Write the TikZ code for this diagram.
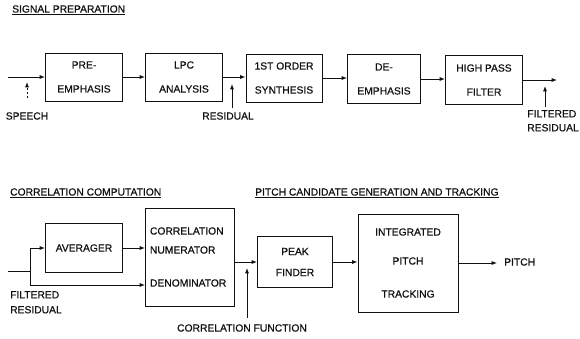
\documentclass[tikz,border=0pt]{standalone}
\usepackage{fontspec}
\setmainfont{Liberation Sans}
\newfontfamily\scanfont{Liberation Sans}[FakeBold=0.6]
\usetikzlibrary{arrows.meta,positioning,calc}
\definecolor{ink}{HTML}{111111}
\tikzset{
  block/.style={draw=ink, line width=1pt, align=center, inner sep=2pt,
                font=\scanfont\fontsize{10.3}{12}\selectfont, text=ink},
  arrow/.style={-{Latex[length=1.9mm,width=1.5mm]}, line width=1pt, draw=ink},
  line/.style={line width=1pt, draw=ink},
  lbl/.style={font=\scanfont\fontsize{10.3}{12}\selectfont, text=ink, inner sep=1pt},
  heading/.style={font=\scanfont\fontsize{10.3}{12}\selectfont, text=ink, anchor=west, inner sep=1pt}
}
\begin{document}
\begin{tikzpicture}[x=1pt,y=-1pt]
    \useasboundingbox (0,0) rectangle (580,338);

    % Signal preparation
    \node[heading] (tsig) at (11,10) {\underline{SIGNAL PREPARATION}};
    \node[block, minimum width=77pt, minimum height=48pt] (pre) at (84,77) {PRE-\\[12pt]EMPHASIS};
    \node[block, minimum width=77pt, minimum height=48pt] (lpc) at (184,77) {LPC\\[12pt]ANALYSIS};
    \node[block, minimum width=76pt, minimum height=48pt] (syn) at (284,78) {1ST ORDER\\[12pt]SYNTHESIS};
    \node[block, minimum width=73pt, minimum height=49pt] (dem) at (384,79) {DE-\\[12pt]EMPHASIS};
    \node[block, minimum width=77pt, minimum height=49pt] (hpf) at (484,80) {HIGH PASS\\[12pt]FILTER};

    \coordinate (sin) at (8,0 |- pre.west);
    \coordinate (sout) at (557,0 |- hpf.east);
    \draw[arrow] (sin) -- (pre.west);
    \draw[arrow] (pre.east) -- (pre.east -| lpc.west);
    \draw[arrow] (lpc.east) -- (lpc.east -| syn.west);
    \draw[arrow] (syn.east) -- (syn.east -| dem.west);
    \draw[arrow] (dem.east) -- (dem.east -| hpf.west);
    \draw[arrow] (hpf.east) -- (sout);

    \node[lbl] (speech) at (27,116) {SPEECH};
    \node[lbl] (resid) at (228,116) {RESIDUAL};
    \node[lbl, align=left, anchor=north east, inner sep=0pt] (fres) at (579,110) {FILTERED\\[2pt]RESIDUAL};
    \coordinate (speechup) at (27,98);
    \coordinate (residup) at (232,108);
    \coordinate (fresup) at (545,107);
    \draw[arrow, dash pattern=on 2pt off 2pt] (speechup) -- (27,82);
    \draw[arrow] (residup) -- (232,84);
    \draw[arrow] (fresup) -- (545,86);

    % Correlation computation
    \node[heading] (tcor) at (9,193) {\underline{CORRELATION COMPUTATION}};
    \node[block, minimum width=77pt, minimum height=49pt] (avg) at (84,248) {AVERAGER};
    \node[block, minimum width=89pt, minimum height=98pt, align=left, text width=80pt] (corr) at (190,257)
      {CORRELATION\\[7pt]NUMERATOR\\[21pt]DENOMINATOR};
    \node[lbl, align=left, anchor=north west] (cres) at (9,290) {FILTERED\\[3pt]RESIDUAL};

    \coordinate (cin) at (8,271);
    \coordinate (split) at (30,271);
    \coordinate (splitdn) at (30,285);
    \draw[line] (cin) -- (split);
    \draw[arrow] (split) |- (avg.west);
    \draw[arrow] (split) -- (splitdn) -- (splitdn -| corr.west);
    \draw[arrow] (avg.east) -- (avg.east -| corr.west);

    % Pitch candidate generation and tracking
    \node[heading] (tpit) at (254,193) {\underline{PITCH CANDIDATE GENERATION AND TRACKING}};
    \node[block, minimum width=75pt, minimum height=51pt] (peak) at (295,262) {PEAK\\[9pt]FINDER};
    \node[block, minimum width=100pt, minimum height=98pt] (itp) at (408,263)
      {INTEGRATED\\[17pt]PITCH\\[21pt]TRACKING};
    \node[lbl, anchor=west] (pitch) at (503,262) {PITCH};
    \coordinate (pout) at (497,0 |- itp.east);

    \draw[arrow] (corr.east |- peak.west) -- (peak.west);
    \draw[arrow] (peak.east) -- (peak.east -| itp.west);
    \draw[arrow] (itp.east) -- (pout);

    \node[lbl] (cfun) at (242,328) {CORRELATION FUNCTION};
    \coordinate (cfunup) at (247,318);
    \draw[arrow] (cfunup) -- (247,268);
\end{tikzpicture}
\end{document}
